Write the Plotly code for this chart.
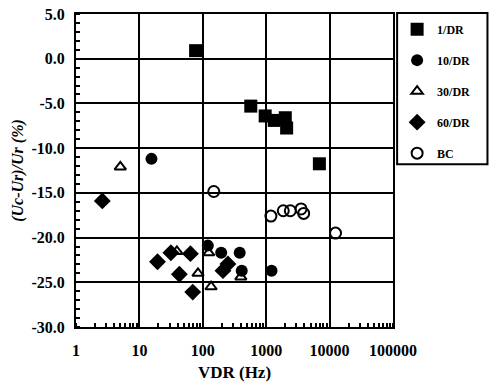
import plotly.graph_objects as go

# Measured points: VDR frequency (Hz) and relative deviation (%)
dr1_x = [77, 571, 964, 1340, 2000, 2100, 6900]
dr1_y = [0.9, -5.3, -6.4, -6.9, -6.6, -7.75, -11.75]

dr10_x = [15.5, 120, 195, 382, 411, 1214]
dr10_y = [-11.2, -20.9, -21.7, -21.7, -23.7, -23.7]

dr30_x = [5, 39, 84, 124, 135, 398]
dr30_y = [-12.1, -21.55, -24.0, -21.7, -25.5, -24.4]

dr60_x = [2.6, 19.3, 31.4, 42.7, 63.8, 69.4, 208, 249]
dr60_y = [-15.9, -22.7, -21.7, -24.1, -21.8, -26.1, -23.7, -22.95]

bc_x = [149, 1187, 1860, 2400, 3550, 3900, 12400]
bc_y = [-14.85, -17.6, -17.0, -17.0, -16.8, -17.3, -19.5]

x_tickvals = [1, 10, 100, 1000, 10000, 100000]
x_ticktext = ["1", "10", "100", "1000", "10000", "100000"]
y_tickvals = [5, 0, -5, -10, -15, -20, -25, -30]
y_ticktext = ["5.0", "0.0", "-5.0", "-10.0", "-15.0", "-20.0", "-25.0", "-30.0"]

FONT = "Liberation Serif"

fig = go.Figure()

series = [
    ("1/DR", dr1_x, dr1_y, dict(symbol="square", size=13, color="black")),
    ("10/DR", dr10_x, dr10_y, dict(symbol="circle", size=12, color="black")),
    ("30/DR", dr30_x, dr30_y, dict(symbol="triangle-up-open", size=10, color="black",
                                   line=dict(width=2, color="black"))),
    ("60/DR", dr60_x, dr60_y, dict(symbol="diamond", size=13, color="black")),
    ("BC", bc_x, bc_y, dict(symbol="circle-open", size=11, color="black",
                            line=dict(width=2, color="black"))),
]
for name, xs, ys, mk in series:
    fig.add_trace(go.Scatter(x=xs, y=ys, mode="markers", name=name,
                             legendgroup=name, marker=mk))

# Frame around the legend
fig.add_shape(type="rect", xref="paper", yref="paper",
              x0=1.013, x1=1.298, y0=0.52, y1=1.003,
              line=dict(color="black", width=2), fillcolor="rgba(0,0,0,0)")

axis_common = dict(
    showline=True, linecolor="black", linewidth=2, mirror=True,
    showgrid=True, gridcolor="black", gridwidth=2,
    ticks="", zeroline=False, automargin=False,
    tickfont=dict(family=FONT, size=16, color="black", weight="bold"),
)

fig.update_xaxes(
    type="log", range=[0, 5],
    tickvals=x_tickvals, ticktext=x_ticktext,
    minor=dict(ticks="inside", ticklen=4, tickwidth=1.5, tickcolor="black",
               showgrid=False, dtick="D1"),
    title=dict(text="VDR (Hz)", font=dict(family=FONT, size=17, color="black", weight="bold"),
               standoff=8),
    ticklabelstandoff=8,
    **axis_common,
)
fig.update_yaxes(
    range=[-30, 5],
    tickvals=y_tickvals, ticktext=y_ticktext,
    minor=dict(ticks="inside", ticklen=4, tickwidth=1.5, tickcolor="black",
               showgrid=False, dtick=1),
    title=dict(text="<i>(Uc-Ur)/Ur (%)</i>",
               font=dict(family=FONT, size=16, color="black", weight="bold"),
               standoff=4),
    ticklabelstandoff=6,
    **axis_common,
)

fig.update_layout(
    width=489, height=385,
    margin=dict(l=76, r=96, t=14, b=58),
    paper_bgcolor="white", plot_bgcolor="white",
    font=dict(family=FONT, color="black"),
    legend=dict(
        x=1.013, y=0.998, xanchor="left", yanchor="top",
        bgcolor="rgba(0,0,0,0)", borderwidth=0,
        font=dict(family=FONT, size=12, color="black", weight="bold"),
        tracegroupgap=12, itemwidth=30,
    ),
    showlegend=True,
)

fig.write_html("out.html")
